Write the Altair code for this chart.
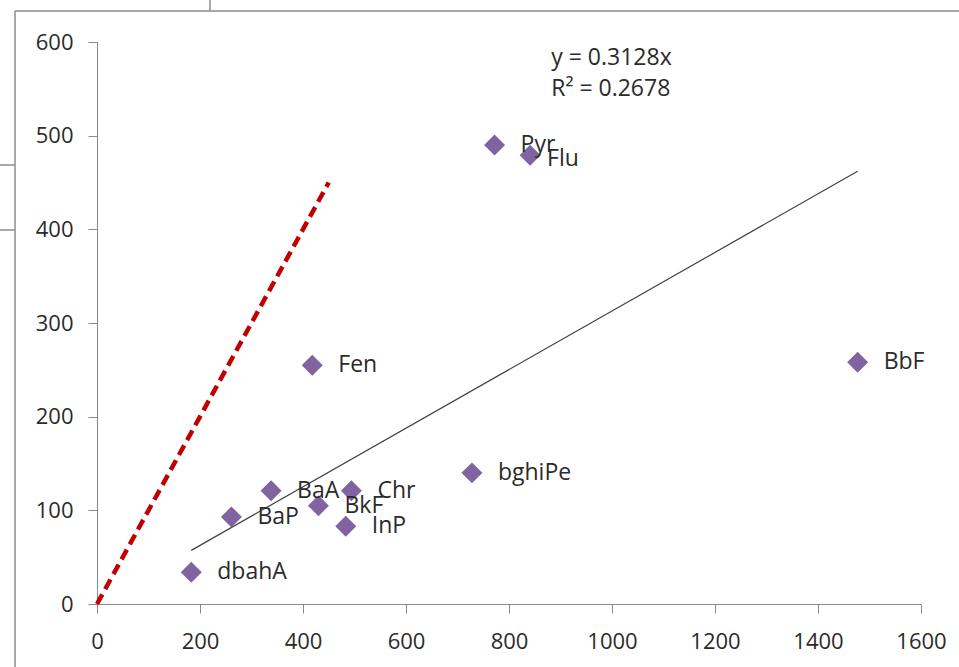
import altair as alt
import pandas as pd

# PAH concentrations: one compound per point
names = ["Pyr", "Flu", "Fen", "BbF", "bghiPe", "BaA", "Chr", "BkF", "BaP", "InP", "dbahA"]
x_vals = [772, 841, 418, 1477, 728, 338, 494, 430, 261, 483, 183]
y_vals = [490, 479, 255, 258, 140, 121, 121, 105, 93, 83, 34]

# Linear fit through the origin and its statistics
slope = 0.3128
r_squared = 0.2678

# 1:1 reference line drawn from the origin up to this value
ref_end = 450

x_ticks = [0, 200, 400, 600, 800, 1000, 1200, 1400, 1600]
y_ticks = [0, 100, 200, 300, 400, 500, 600]

FONT = "Open Sans"
TEXT_COLOR = "#2b2b2b"
AXIS_COLOR = "#8a8a8a"
FRAME_COLOR = "#8c8c8c"

points_df = pd.DataFrame({"name": names, "x": x_vals, "y": y_vals})
trend_df = pd.DataFrame({
    "x": [min(x_vals), max(x_vals)],
    "y": [slope * min(x_vals), slope * max(x_vals)],
})
ref_df = pd.DataFrame({"x": [0, ref_end], "y": [0, ref_end]})
eq_df = pd.DataFrame({
    "x": [882, 882],
    "y": [583, 550],
    "text": [f"y = {slope}x", f"R\u00b2 = {r_squared}"],
})

x_scale = alt.Scale(domain=[0, 1600], nice=False, zero=False)
y_scale = alt.Scale(domain=[0, 600], nice=False, zero=False)

x_axis = alt.Axis(
    values=x_ticks, title=None, grid=False, tickSize=9, labelPadding=18,
    domainColor=AXIS_COLOR, tickColor=AXIS_COLOR, labelFont=FONT,
    labelFontSize=22, labelColor=TEXT_COLOR, labelFlush=False, format="d",
)
y_axis = alt.Axis(
    values=y_ticks, title=None, grid=False, tickSize=9, labelPadding=15,
    domainColor=AXIS_COLOR, tickColor=AXIS_COLOR, labelFont=FONT,
    labelFontSize=22, labelColor=TEXT_COLOR, format="d",
)

X = alt.X("x:Q", scale=x_scale, axis=x_axis)
Y = alt.Y("y:Q", scale=y_scale, axis=y_axis)

ref_line = alt.Chart(ref_df).mark_line(
    color="#C00000", strokeWidth=4.5, strokeDash=[11, 6]
).encode(x=alt.X("x:Q", scale=x_scale), y=alt.Y("y:Q", scale=y_scale))

trend_line = alt.Chart(trend_df).mark_line(
    color="#404040", strokeWidth=1.2
).encode(x=alt.X("x:Q", scale=x_scale), y=alt.Y("y:Q", scale=y_scale))

points = alt.Chart(points_df).mark_point(
    shape="diamond", filled=True, size=440, color="#8064A2", opacity=1
).encode(x=X, y=Y)

label_style = dict(align="left", baseline="middle", font=FONT, fontSize=23, color=TEXT_COLOR)

labels = alt.Chart(points_df).transform_filter(
    alt.datum.name != "Flu"
).mark_text(dx=26, **label_style).encode(
    x=alt.X("x:Q", scale=x_scale), y=alt.Y("y:Q", scale=y_scale), text="name:N"
)

flu_label = alt.Chart(points_df).transform_filter(
    alt.datum.name == "Flu"
).mark_text(dx=17, dy=4, **label_style).encode(
    x=alt.X("x:Q", scale=x_scale), y=alt.Y("y:Q", scale=y_scale), text="name:N"
)

equation = alt.Chart(eq_df).mark_text(
    align="left", baseline="middle", font=FONT, fontSize=23, color=TEXT_COLOR
).encode(x=alt.X("x:Q", scale=x_scale), y=alt.Y("y:Q", scale=y_scale), text="text:N")

# Outer frame of the chart object
one = pd.DataFrame({"k": [0]})


def frame_rule(x, y, x2=None, y2=None):
    enc = dict(x=alt.value(x), y=alt.value(y))
    if x2 is not None:
        enc["x2"] = alt.value(x2)
    if y2 is not None:
        enc["y2"] = alt.value(y2)
    return alt.Chart(one).mark_rule(color=FRAME_COLOR, strokeWidth=1.5).encode(**enc)


frame = [
    frame_rule(-82, -31, y2=625),
    frame_rule(-82, -31, x2=862),
    frame_rule(113, -42, y2=-31),
    frame_rule(-97, 123, x2=-82),
    frame_rule(-97, 188, x2=-82),
]

chart = alt.layer(
    ref_line, trend_line, points, labels, flu_label, equation, *frame
).properties(
    width=824,
    height=562,
    autosize=alt.AutoSizeParams(type="none"),
    padding={"left": 97, "top": 42, "right": 38, "bottom": 63},
    background="white",
).configure_view(stroke=None)

chart.save("out.html", embed_options={"renderer": "svg", "actions": False})
